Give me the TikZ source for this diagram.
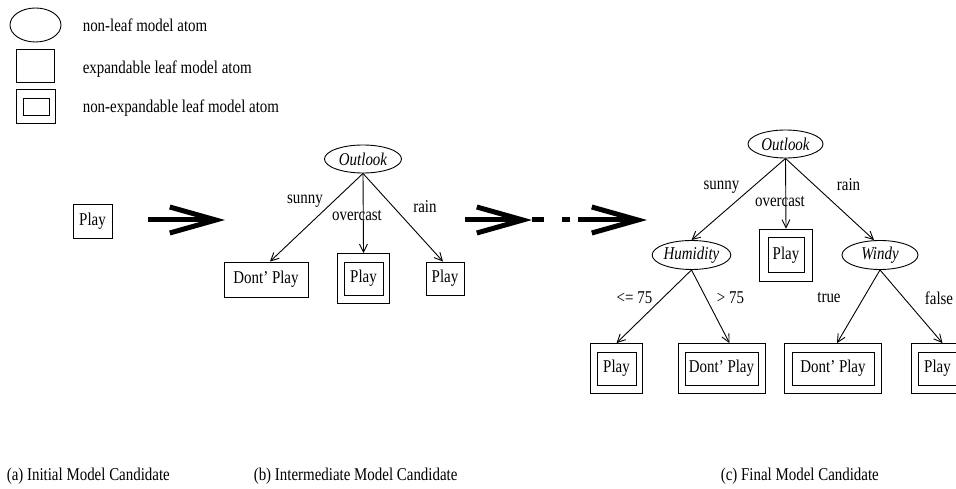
\documentclass[tikz,border=0pt]{standalone}
\usepackage{fontspec}
\setmainfont{Liberation Serif}[FakeStretch=0.83]
\usetikzlibrary{arrows.meta,shapes.geometric,fit}

\tikzset{
  nonleaf/.style={ellipse, draw, inner sep=0pt, minimum width=77pt, minimum height=29pt, font=\fontsize{18}{21}\selectfont\itshape},
  leaf/.style={rectangle, draw, inner sep=0pt, minimum width=39pt, minimum height=33pt},
  outerbox/.style={rectangle, draw, inner xsep=6pt, inner ysep=8pt},
  branch/.style={-{Straight Barb[length=8pt,width=8pt]}},
  bigarrow/.style={line width=5pt, -{Straight Barb[length=46pt,width=26pt]}},
  lbl/.style={inner sep=0pt},
}

\begin{document}
\begin{tikzpicture}[x=1pt, y=-1pt, line width=0.9pt, font=\fontsize{18}{21}\selectfont]
  \useasboundingbox (0,0) rectangle (956,489);

  % legend
  \node[nonleaf, minimum width=51pt, minimum height=34pt] (key1) at (35.5,25) {};
  \node[leaf, minimum width=38pt] (key2) at (35,65.5) {};
  \node[leaf, minimum width=26pt, minimum height=17pt] (key3) at (36,106.5) {};
  \node[outerbox, fit=(key3)] (key3o) {};
  \node[anchor=base west] (keytext1) at (79,32) {non-leaf model atom};
  \node[anchor=base west] (keytext2) at (79,74) {expandable leaf model atom};
  \node[anchor=base west] (keytext3) at (79,113) {non-expandable leaf model atom};

  % (a) initial candidate
  \node[leaf, minimum height=34pt] (a) at (92.5,221.5) {Play};

  \coordinate (a1s) at (148,220);
  \coordinate (a1e) at (225,220);
  \draw[bigarrow] (a1s) -- (a1e);

  % (b) intermediate candidate
  \node[nonleaf, minimum height=28pt] (bo) at (363,159) {Outlook};
  \node[leaf, minimum width=84pt, minimum height=35pt] (bd) at (266,279.5) {Dont' Play};
  \node[leaf] (bp) at (363.5,278.5) {Play};
  \node[outerbox, fit=(bp)] (bpo) {};
  \node[leaf, minimum width=38pt] (br) at (445,278.5) {Play};

  \draw[branch] (bo.south) -- ([xshift=4pt]bd.north);
  \draw[branch] (bo.south) -- (bpo.north);
  \draw[branch] (bo.south) -- ([xshift=-2pt]br.north);

  \node[lbl] (bsunny) at (305,201) {sunny};
  \node[lbl] (bover) at (357,216) {overcast};
  \node[lbl] (brain) at (425,207) {rain};

  \coordinate (a2s) at (465,220);
  \coordinate (a2m) at (532,220);
  \coordinate (a2n) at (578,220);
  \coordinate (a2e) at (647,220);
  \draw[bigarrow] (a2s) -- (a2m);
  \draw[line width=5pt, dash pattern=on 12pt off 18pt on 8pt off 8pt] (a2m) -- (a2n);
  \draw[bigarrow] (a2n) -- (a2e);

  % (c) final candidate
  \node[nonleaf, minimum width=75pt, minimum height=28pt] (co) at (785.5,144) {Outlook};
  \node[nonleaf] (ch) at (691.5,255) {Humidity};
  \node[leaf, minimum width=36pt, minimum height=35pt] (cp) at (786,255) {Play};
  \node[outerbox, inner xsep=8pt, fit=(cp)] (cpo) {};
  \node[nonleaf, minimum width=76pt] (cw) at (880,255) {Windy};

  \node[leaf] (cp1) at (616.5,368.5) {Play};
  \node[outerbox, fit=(cp1)] (cp1o) {};
  \node[leaf, minimum width=73pt] (cd1) at (721.5,368.5) {Dont' Play};
  \node[outerbox, inner xsep=6.5pt, fit=(cd1)] (cd1o) {};
  \node[leaf, minimum width=82pt] (cd2) at (833,368.5) {Dont' Play};
  \node[outerbox, inner xsep=7pt, fit=(cd2)] (cd2o) {};
  \node[leaf] (cp2) at (937.5,368.5) {Play};
  \node[outerbox, fit=(cp2)] (cp2o) {};

  \draw[branch] (co.south) -- (ch.north);
  \draw[branch] (co.south) -- (cpo.north);
  \draw[branch] (co.south) -- ([xshift=-6pt]cw.north);
  \draw[branch] (ch.south) -- (cp1o.north);
  \draw[branch] (ch.south) -- ([xshift=8pt]cd1o.north);
  \draw[branch] (cw.south) -- ([xshift=4pt]cd2o.north);
  \draw[branch] (cw.south) -- ([xshift=5pt]cp2o.north);

  \node[lbl] (csunny) at (721.5,187) {sunny};
  \node[lbl] (cover) at (780,202) {overcast};
  \node[lbl] (crain) at (848.5,185) {rain};
  \node[lbl] (cle) at (634.5,298) {<= 75};
  \node[lbl] (cgt) at (730.5,298) {> 75};
  \node[lbl] (ctrue) at (829,298) {true};
  \node[lbl] (cfalse) at (939,298) {false};

  % captions
  \node[anchor=base west] (capa) at (3,480) {(a) Initial Model Candidate};
  \node[anchor=base west] (capb) at (250,480) {(b) Intermediate Model Candidate};
  \node[anchor=base west] (capc) at (717,480) {(c) Final Model Candidate};
\end{tikzpicture}
\end{document}
